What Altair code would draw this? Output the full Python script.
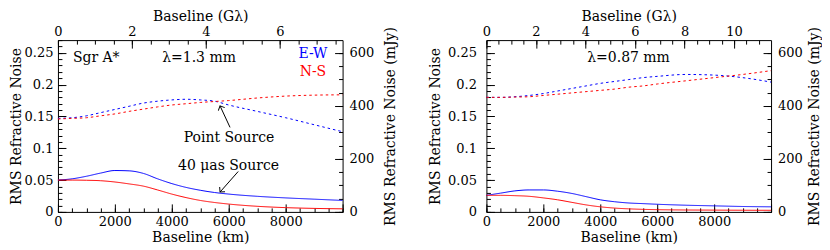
import altair as alt
import pandas as pd

# ---------------- data ----------------
KM = [0, 500, 1000, 1500, 2000, 2500, 3000, 3500, 4000, 4500, 5000, 5500, 6000, 7000, 8000, 9000, 10000]

# lambda = 1.3 mm
EW_EXT_13 = [0.050, 0.052, 0.056, 0.061, 0.065, 0.0645, 0.0605, 0.052, 0.0445, 0.0385, 0.034, 0.0305, 0.028, 0.0245, 0.022, 0.020, 0.018]
NS_EXT_13 = [0.050, 0.050, 0.0497, 0.049, 0.047, 0.044, 0.0405, 0.0345, 0.028, 0.0225, 0.018, 0.0148, 0.0123, 0.0088, 0.0067, 0.0055, 0.0048]
EW_PT_13 = [0.147, 0.148, 0.151, 0.156, 0.161, 0.166, 0.171, 0.174, 0.176, 0.177, 0.176, 0.174, 0.168, 0.158, 0.148, 0.137, 0.126]
NS_PT_13 = [0.146, 0.147, 0.148, 0.151, 0.154, 0.158, 0.1615, 0.165, 0.168, 0.170, 0.172, 0.1735, 0.175, 0.179, 0.182, 0.1835, 0.184]

# lambda = 0.87 mm
EW_EXT_087 = [0.026, 0.0295, 0.033, 0.0345, 0.0345, 0.0325, 0.029, 0.024, 0.019, 0.016, 0.014, 0.013, 0.012, 0.0105, 0.0095, 0.0085, 0.008]
NS_EXT_087 = [0.026, 0.026, 0.0255, 0.0245, 0.022, 0.019, 0.015, 0.011, 0.008, 0.006, 0.0048, 0.004, 0.0035, 0.003, 0.0028, 0.0026, 0.0025]
EW_PT_087 = [0.180, 0.180, 0.181, 0.183, 0.186, 0.190, 0.194, 0.198, 0.202, 0.205, 0.208, 0.211, 0.213, 0.216, 0.215, 0.211, 0.204]
NS_PT_087 = [0.180, 0.180, 0.1805, 0.181, 0.183, 0.185, 0.187, 0.189, 0.191, 0.193, 0.196, 0.198, 0.201, 0.206, 0.211, 0.216, 0.222]

SERIES = ["E-W 40 μas", "N-S 40 μas", "E-W point", "N-S point"]
COLORS = ["#0000ff", "#ff0000", "#0000ff", "#ff0000"]
DASHES = [[1, 0], [1, 0], [2.5, 3], [2.5, 3]]

# tick values
KM_TICKS = [0, 2000, 4000, 6000, 8000]
KM_MINOR = list(range(0, 10001, 500))
NOISE_TICKS = [0, 0.05, 0.1, 0.15, 0.2, 0.25]
NOISE_MINOR = [k / 100 for k in range(0, 28)]
MJY_TICKS = [0, 200, 400, 600]
MJY_MINOR = list(range(0, 601, 50))
GL_TICKS_13 = [0, 2, 4, 6]
GL_MINOR_13 = [k / 2 for k in range(0, 16)]
GL_TICKS_087 = [0, 2, 4, 6, 8, 10]
GL_MINOR_087 = [k / 2 for k in range(0, 23)]
FLUX_MJY = 2400  # mJy per unit of fractional noise

XMAX = 10000
YMAX = 0.27

FONT = "DejaVu Serif"
LFS = 13    # tick label size
TFS = 14    # title / annotation size


def lab_axis(**kw):
    d = dict(grid=False, domain=False, ticks=False, tickSize=0, labelFont=FONT, labelFontSize=LFS,
             labelColor="black", titleFont=FONT, titleFontSize=TFS, titleFontWeight="normal",
             titleColor="black", labelFlush=False, labelOverlap=False)
    d.update(kw)
    return alt.Axis(**d)


def tick_axis(orient, values, size):
    return alt.Axis(orient=orient, values=values, offset=-size, tickSize=size, labels=False,
                    domain=False, grid=False, title=None, ticks=True, tickColor="black", tickWidth=1)


def make_panel(series_vals, lam_mm, gl_ticks, gl_minor, texts, arrows, left_tp, left_lp, right_tp):
    rows = []
    for name, vals in zip(SERIES, series_vals):
        for k, v in zip(KM, vals):
            rows.append({"km": k, "v": v, "series": name})
    df = pd.DataFrame(rows)
    xs = alt.Scale(domain=[0, XMAX], nice=False, zero=True)
    ys = alt.Scale(domain=[0, YMAX], nice=False, zero=True)
    kpg = lam_mm * 1000.0  # km per G-lambda
    base = alt.Chart(df)

    main = base.mark_line(strokeWidth=1, interpolate="monotone").encode(
        x=alt.X("km:Q", scale=xs, axis=lab_axis(orient="bottom", values=KM_TICKS, format="d",
                                                labelPadding=4, title="Baseline (km)", titlePadding=2)),
        y=alt.Y("v:Q", scale=ys, axis=lab_axis(orient="left", values=NOISE_TICKS, format="~g",
                                              labelPadding=left_lp, title="RMS Refractive Noise",
                                              titlePadding=left_tp)),
        color=alt.Color("series:N", scale=alt.Scale(domain=SERIES, range=COLORS), legend=None),
        strokeDash=alt.StrokeDash("series:N", scale=alt.Scale(domain=SERIES, range=DASHES), legend=None),
    )

    def ghost(xaxis, yaxis):
        return base.mark_line(opacity=0).encode(
            x=alt.X("km:Q", scale=xs, axis=xaxis),
            y=alt.Y("v:Q", scale=ys, axis=yaxis),
            detail="series:N",
        )

    g_major_bl = ghost(tick_axis("bottom", KM_TICKS + [10000], 8), tick_axis("left", NOISE_TICKS, 8))
    g_minor_bl = ghost(tick_axis("bottom", KM_MINOR, 4), tick_axis("left", NOISE_MINOR, 4))
    g_major_tr = ghost(tick_axis("top", [g * kpg for g in gl_ticks], 8),
                       tick_axis("right", [m / FLUX_MJY for m in MJY_TICKS], 8))
    g_minor_tr = ghost(tick_axis("top", [g * kpg for g in gl_minor], 4),
                       tick_axis("right", [m / FLUX_MJY for m in MJY_MINOR], 4))
    g_labels_tr = ghost(
        lab_axis(orient="top", values=[g * kpg for g in gl_ticks],
                 labelExpr=f"format(round(datum.value/{kpg}), 'd')", labelPadding=2,
                 title="Baseline (Gλ)", titlePadding=2),
        lab_axis(orient="right", values=[m / FLUX_MJY for m in MJY_TICKS],
                 labelExpr=f"format(round(datum.value*{FLUX_MJY}), 'd')", labelPadding=6.5,
                 title="RMS Refractive Noise (mJy)", titlePadding=right_tp,
                 titleAngle=270, titleBaseline="top"),
    )

    ann = alt.Chart(pd.DataFrame(texts)).mark_text(font=FONT, fontSize=TFS, align="center",
                                                   baseline="middle").encode(
        x=alt.X("x:Q", scale=xs, axis=None),
        y=alt.Y("y:Q", scale=ys, axis=None),
        text="t:N",
        color=alt.Color("c:N", scale=None),
    )
    layers = [main, g_major_bl, g_minor_bl, g_major_tr, g_minor_tr, g_labels_tr, ann]
    if arrows:
        adf = pd.DataFrame(arrows)
        shaft = alt.Chart(adf).mark_rule(color="black", strokeWidth=1).encode(
            x=alt.X("x0:Q", scale=xs, axis=None), y=alt.Y("y0:Q", scale=ys, axis=None),
            x2="x1:Q", y2="y1:Q")
        head = alt.Chart(adf).mark_point(shape="M-1,1L0,0L1,1", filled=False, size=50,
                                         color="black", strokeWidth=1, opacity=1).encode(
            x=alt.X("x1:Q", scale=xs, axis=None), y=alt.Y("y1:Q", scale=ys, axis=None),
            angle=alt.Angle("ang:Q", scale=None))
        layers += [shaft, head]
    return alt.layer(*layers).resolve_axis(x="independent", y="independent").properties(width=285, height=172)


texts_13 = [
    {"x": 1345, "y": 0.2425, "t": "Sgr A*", "c": "black"},
    {"x": 4958, "y": 0.2425, "t": "λ=1.3 mm", "c": "black"},
    {"x": 8958, "y": 0.2477, "t": "E-W", "c": "#0000ff"},
    {"x": 8958, "y": 0.2194, "t": "N-S", "c": "#ff0000"},
    {"x": 6011, "y": 0.1169, "t": "Point Source", "c": "black"},
    {"x": 5993, "y": 0.0723, "t": "40 μas Source", "c": "black"},
]
arrows_13 = [
    {"x0": 6046, "y0": 0.1328, "x1": 5695, "y1": 0.1666, "ang": 335.6},
    {"x0": 6333, "y0": 0.0635, "x1": 5695, "y1": 0.0312, "ang": 220.6},
]
texts_087 = [
    {"x": 4993, "y": 0.2425, "t": "λ=0.87 mm", "c": "black"},
]

left = make_panel([EW_EXT_13, NS_EXT_13, EW_PT_13, NS_PT_13], 1.3, GL_TICKS_13, GL_MINOR_13,
                  texts_13, arrows_13, left_tp=1, left_lp=5, right_tp=10)
right = make_panel([EW_EXT_087, NS_EXT_087, EW_PT_087, NS_PT_087], 0.87, GL_TICKS_087, GL_MINOR_087,
                   texts_087, None, left_tp=5, left_lp=10, right_tp=5)

chart = alt.hconcat(left, right, spacing=29).properties(
    padding={"left": 0, "top": 0, "right": 0, "bottom": 0}
).configure_view(stroke="black", strokeWidth=1)

chart.save("out.html", embed_options={"renderer": "svg", "actions": False})
